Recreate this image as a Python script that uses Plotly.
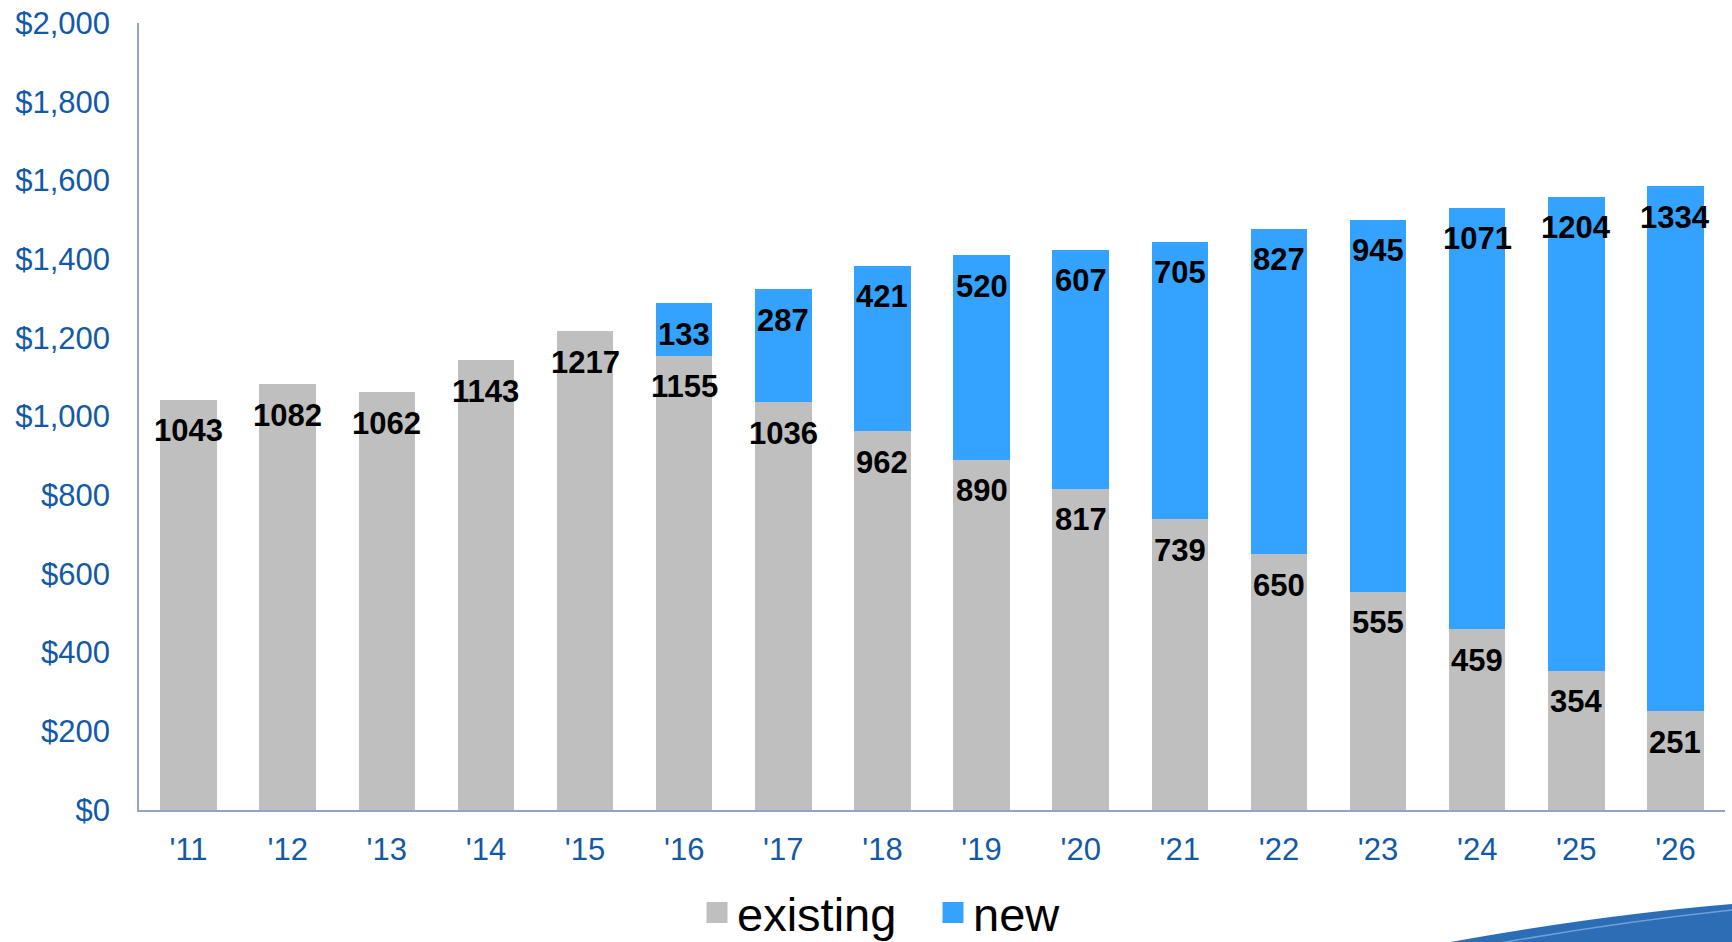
import plotly.graph_objects as go

years = ["'11", "'12", "'13", "'14", "'15", "'16", "'17", "'18", "'19", "'20",
         "'21", "'22", "'23", "'24", "'25", "'26"]
existing = [1043, 1082, 1062, 1143, 1217, 1155, 1036, 962, 890, 817, 739, 650, 555, 459, 354, 251]
new = [None, None, None, None, None, 133, 287, 421, 520, 607, 705, 827, 945, 1071, 1204, 1334]

GREY = "#BFBFBF"
BLUE = "#33A3FF"
TICK_BLUE = "#1259A8"
AXIS = "#93A3C8"
FONT = "Liberation Sans, Arial, sans-serif"

W, H = 1732, 942
L, R, T, B = 139, 7, 23, 132

fig = go.Figure()
fig.add_trace(go.Bar(x=years, y=existing, marker=dict(color=GREY, line=dict(width=0)),
                     name="existing", showlegend=False))
fig.add_trace(go.Bar(x=years, y=[v if v is not None else 0 for v in new],
                     marker=dict(color=BLUE, line=dict(width=0)),
                     name="new", showlegend=False))

# legend entries
fig.add_trace(go.Scatter(x=[None], y=[None], mode="markers", name="existing",
                         marker=dict(symbol="square", size=16, color=GREY,
                                     line=dict(color=GREY, width=5))))
fig.add_trace(go.Scatter(x=[None], y=[None], mode="markers", name="new",
                         marker=dict(symbol="square", size=16, color=BLUE,
                                     line=dict(color=BLUE, width=5))))

annotations = []
for i, yr in enumerate(years):
    annotations.append(dict(x=yr, y=existing[i], xref="x", yref="y", text=str(existing[i]),
                            showarrow=False, yanchor="middle", yshift=-31,
                            font=dict(family=FONT, size=31, color="black", weight="bold")))
    if new[i] is not None:
        annotations.append(dict(x=yr, y=existing[i] + new[i], xref="x", yref="y", text=str(new[i]),
                                showarrow=False, yanchor="middle", yshift=-31,
                                font=dict(family=FONT, size=31, color="black", weight="bold")))

pw = W - L - R
ph = H - T - B
def px(x):
    return (x - L) / pw
def py(y):
    return (H - B - y) / ph

shapes = [
    dict(type="path", xref="paper", yref="paper",
         path=f"M {px(1445)},{py(943)} Q {px(1600)},{py(915)} {px(1733)},{py(904)} L {px(1733)},{py(943)} Z",
         fillcolor="#2C6DB5", line=dict(width=0), layer="above"),
    dict(type="path", xref="paper", yref="paper",
         path=f"M {px(1500)},{py(943)} Q {px(1620)},{py(922)} {px(1733)},{py(910)}",
         line=dict(color="#6FA0D8", width=1.5), layer="above"),
]

fig.update_layout(
    width=W, height=H,
    margin=dict(l=L, r=R, t=T, b=B, pad=0, autoexpand=False),
    barmode="stack", bargap=0.43,
    plot_bgcolor="white", paper_bgcolor="white",
    font=dict(family=FONT, size=31, color=TICK_BLUE),
    xaxis=dict(showgrid=False, showline=True, linecolor=AXIS, linewidth=1.5,
               ticks="", tickfont=dict(size=31, color=TICK_BLUE, family=FONT),
               ticklabelstandoff=11, automargin=False),
    yaxis=dict(range=[0, 2000], dtick=200, tickprefix="$", tickformat=",d",
               showgrid=False, showline=True, linecolor=AXIS, linewidth=1.5,
               ticks="", zeroline=False, automargin=False,
               tickfont=dict(size=31, color=TICK_BLUE, family=FONT),
               ticklabelstandoff=21),
    legend=dict(orientation="h", x=px(933), xanchor="center", y=py(913), yanchor="middle",
                font=dict(size=47, color="black", family=FONT), itemwidth=30,
                entrywidth=191,
                traceorder="normal", bgcolor="rgba(0,0,0,0)"),
    annotations=annotations,
    shapes=shapes,
)

fig.write_html("out.html")
